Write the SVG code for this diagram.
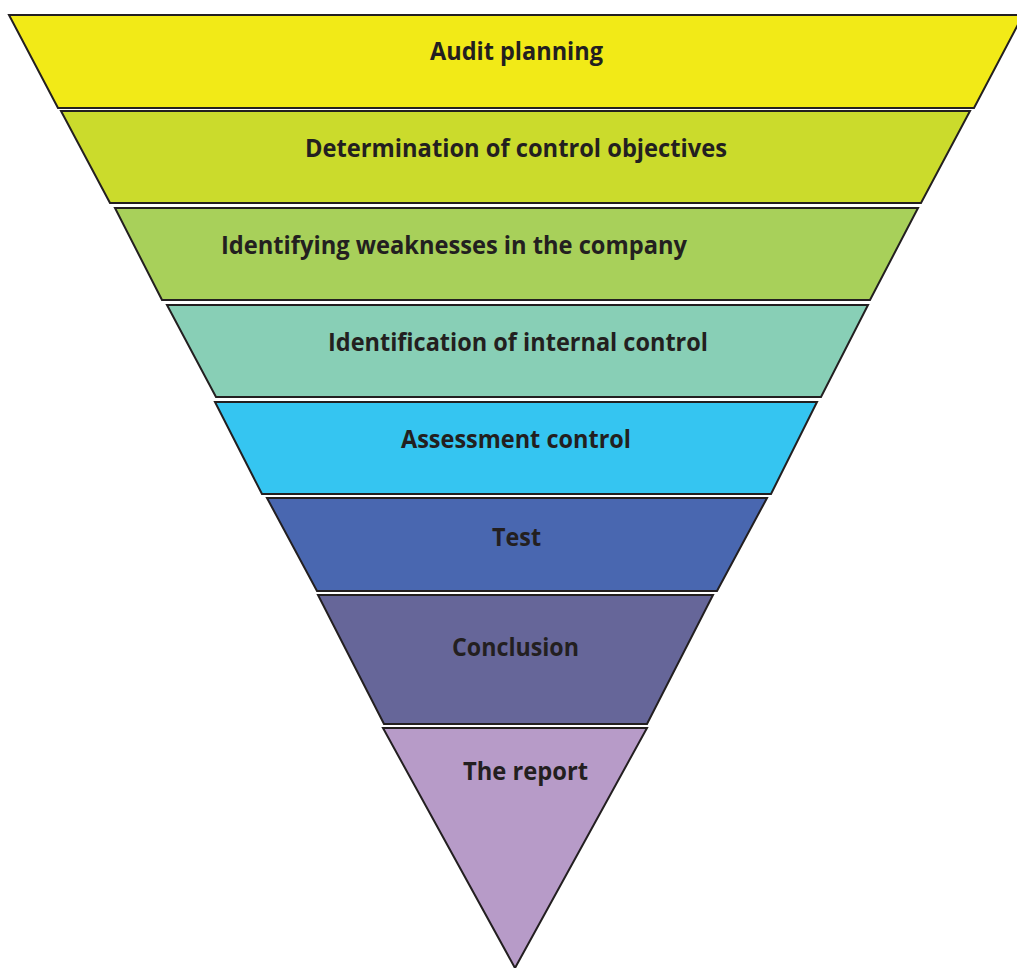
<svg xmlns="http://www.w3.org/2000/svg" width="1017" height="968" viewBox="0 0 1017 968">
<style>
.band{stroke:#231F20;stroke-width:2;stroke-linejoin:miter}
.lbl{font-family:"Open Sans","Noto Sans","Liberation Sans",sans-serif;font-weight:bold;font-size:25.5px;fill:#231F20}
</style>
<rect width="1017" height="968" fill="#FFFFFF"/>
<g id="band1"><polygon class="band" fill="#F2EA17" points="9,15 1023,15 974,108 58,108"/><text class="lbl" x="430" y="60" textLength="173" lengthAdjust="spacingAndGlyphs">Audit planning</text></g>
<g id="band2"><polygon class="band" fill="#CBDB2C" points="61,111 970,111 921,203 110,203"/><text class="lbl" x="305" y="157" textLength="422" lengthAdjust="spacingAndGlyphs">Determination of control objectives</text></g>
<g id="band3"><polygon class="band" fill="#A8D05A" points="115,208 918,208 870,300 162,300"/><text class="lbl" x="221" y="254" textLength="466" lengthAdjust="spacingAndGlyphs">Identifying weaknesses in the company</text></g>
<g id="band4"><polygon class="band" fill="#88CFB6" points="167,305 868,305 821,397 216,397"/><text class="lbl" x="328" y="351" textLength="380" lengthAdjust="spacingAndGlyphs">Identification of internal control</text></g>
<g id="band5"><polygon class="band" fill="#35C5F1" points="215,402 817,402 771,494 262,494"/><text class="lbl" x="401" y="448" textLength="230" lengthAdjust="spacingAndGlyphs">Assessment control</text></g>
<g id="band6"><polygon class="band" fill="#4967B0" points="267,498 767,498 717,591 317,591"/><text class="lbl" x="492" y="546" textLength="49" lengthAdjust="spacingAndGlyphs">Test</text></g>
<g id="band7"><polygon class="band" fill="#666699" points="318,595 713,595 647,724 384,724"/><text class="lbl" x="452" y="656" textLength="127" lengthAdjust="spacingAndGlyphs">Conclusion</text></g>
<g id="band8"><polygon class="band" fill="#B79BC8" points="383,728 647,728 515,968"/><text class="lbl" x="463" y="780" textLength="125" lengthAdjust="spacingAndGlyphs">The report</text></g>
<g id="connectors"></g>
</svg>
